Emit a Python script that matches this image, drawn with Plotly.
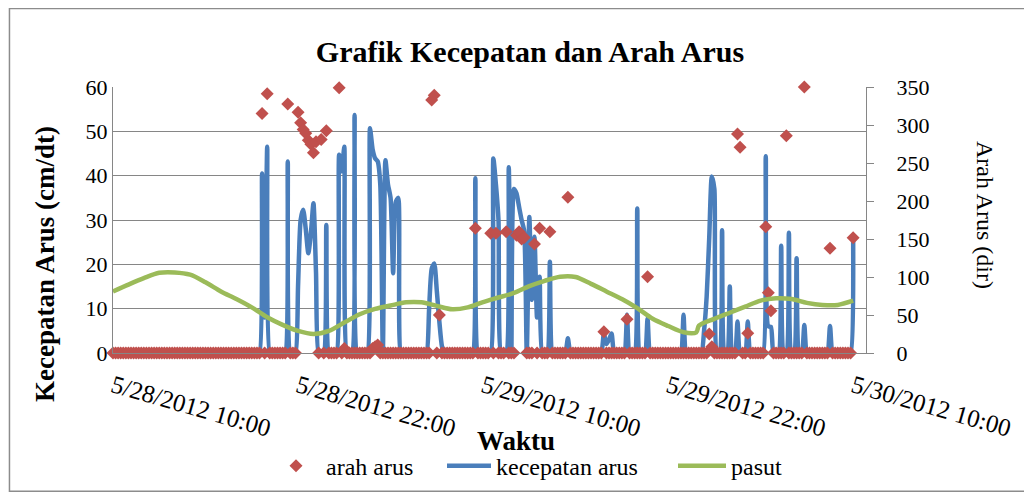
import pandas as pd
import plotly.graph_objects as go

# data 10 menit, 5/28/2012 10:00 - 5/30/2012 10:00 (tiap baris = 2 jam)
kecepatan_arus = [
    0, 0, 0, 0, 0, 0, 0, 0, 0, 0, 0, 0,
    0, 0, 0, 0, 0, 0, 0, 0, 0, 0, 0, 0,
    0, 0, 0, 0, 0, 0, 0, 0, 0, 0, 0, 0,
    0, 0, 0, 0, 0, 0, 0, 0, 0, 0, 0, 0,
    0, 0, 0, 0, 0, 0, 0, 0, 0, 0, 40.5, 8,
    46.5, 0, 0, 0, 0, 0, 0, 0, 43.2, 0, 0, 0,
    15, 30, 32.3, 28, 22.5, 27, 33.8, 18, 0, 0, 0, 28.9,
    0, 0, 0, 0, 44.7, 41, 46.5, 0, 0, 0, 53.7, 0,
    0, 0, 0, 0, 50.7, 46, 43.9, 43.2, 38, 0, 43.5, 38,
    35, 18, 34, 35, 0, 0, 0, 0, 0, 0, 0, 0,
    0, 0, 0, 10, 19, 20.2, 14, 7, 1.5, 0, 0, 0,
    0, 0, 0, 0, 0, 0, 0, 0, 0, 39.4, 0, 0,
    0, 0, 0, 0, 43.9, 38, 30, 0, 0, 0, 41.9, 0,
    37, 36, 33, 30, 27.5, 0, 30.7, 12, 26.2, 8, 17.2, 0,
    0, 0, 20.6, 0, 0, 0, 0, 0, 0, 3.3, 0, 0,
    0, 0, 0, 0, 0, 0, 0, 0, 0, 0, 0, 4.4,
    2, 3, 4.4, 0, 0, 0, 0, 0, 8.6, 0, 0, 0,
    32.6, 0, 0, 0, 7.8, 0, 0, 0, 0, 0, 0, 0,
    0, 0, 0, 0, 0, 0, 8.6, 0, 0, 0, 0, 0,
    0, 0, 5, 12.7, 26, 39.8, 37, 0, 0, 27.7, 0, 0,
    15, 0, 0, 7.1, 0, 0, 0, 7.1, 0, 0, 0, 0,
    0, 0, 44.4, 6, 5.9, 0, 0, 0, 24.2, 0, 0, 27.1,
    0, 0, 21.4, 0, 0, 6.3, 0, 0, 0, 0, 0, 0,
    0, 0, 0, 6.1, 0, 0, 0, 0, 0, 0, 0, 0,
    25.9,
]

arah_arus = [
    0, 0, 0, 0, 0, 0, 0, 0, 0, 0, 0, 0,
    0, 0, 0, 0, 0, 0, 0, 0, 0, 0, 0, 0,
    0, 0, 0, 0, 0, 0, 0, 0, 0, 0, 0, 0,
    0, 0, 0, 0, 0, 0, 0, 0, 0, 0, 0, 0,
    0, 0, 0, 0, 0, 0, 0, 0, 0, 0, 315, 0,
    341, 0, 0, 0, 0, 0, 0, 0, 327.6, 0, 0, 0,
    316.7, 303, 294, 289, 280, 274.6, 263.6, 278, 0, 281, 0, 292.5,
    0, 0, 0, 0, 349, 0, 6, 0, 0, 0, 0, 0,
    0, 0, 0, 0, 0, 6, 8.3, 10.5, 0, 0, 0, 0,
    0, 0, 0, 0, 0, 0, 0, 0, 0, 0, 0, 0,
    0, 0, 0, 0, 333, 339, 0, 50, 0, 0, 0, 0,
    0, 0, 0, 0, 0, 0, 0, 0, 0, 164, 0, 0,
    0, 0, 0, 157.5, 0, 157.5, 0, 0, 0, 159.6, 0, 0,
    0, 155, 159.6, 150, 152, 0, 0, 0, 143.4, 0, 164, 0,
    0, 0, 159.6, 0, 0, 0, 0, 0, 0, 204.9, 0, 0,
    0, 0, 0, 0, 0, 0, 0, 0, 0, 0, 0, 28,
    0, 0, 0, 0, 0, 0, 0, 0, 44.3, 0, 0, 0,
    0, 0, 0, 0, 100.4, 0, 0, 0, 0, 0, 0, 0,
    0, 0, 0, 0, 0, 0, 0, 0, 0, 0, 0, 0,
    0, 0, 0, 0, 25, 8.3, 0, 0, 0, 0, 0, 0,
    0, 0, 0, 288, 270.6, 0, 0, 26, 0, 0, 0, 0,
    0, 0, 166, 79.4, 55.7, 0, 0, 0, 0, 0, 286, 0,
    0, 0, 0, 0, 0, 350, 0, 0, 0, 0, 0, 0,
    0, 0, 0, 137.7, 0, 0, 0, 0, 0, 0, 0, 0,
    151.5,
]

# pasut (jam sejak 5/28/2012 10:00)
pasut_jam = [0, 1, 2, 3, 4, 5, 6, 7, 8, 9, 10, 11, 12, 13, 14, 15, 16, 17, 18, 19,
             20, 21, 22, 23, 24, 25, 26, 27, 28, 29, 30, 31, 32, 33, 34, 35, 36, 37,
             37.83, 38, 39, 40, 41, 42, 43, 44, 45, 46, 47, 48]
pasut = [81, 90, 98.5, 105.5, 106, 103, 93, 81, 71, 60, 47, 37, 29, 25, 29, 40, 51, 58,
         62.5, 66.7, 66.7, 62, 57.5, 60, 67, 73, 79, 88, 95, 100.4, 100, 91, 81, 71, 59,
         45, 35.5, 27.2, 27.2, 36, 45, 53, 61, 69, 72, 71, 66, 63.2, 63.2, 68.8]

start = pd.Timestamp("2012-05-28 10:00")
waktu = pd.date_range(start, periods=len(kecepatan_arus), freq="10min")
waktu_pasut = [start + pd.Timedelta(hours=h) for h in pasut_jam]

FONT = "Liberation Serif"
GRID = "#868686"

fig = go.Figure()
fig.add_trace(go.Scatter(
    x=waktu, y=arah_arus, name="arah arus", mode="markers", yaxis="y2",
    marker=dict(symbol="diamond", size=10, color="#C0504D"),
    cliponaxis=False, legend="legend",
))
fig.add_trace(go.Scatter(
    x=waktu, y=kecepatan_arus, name="kecepatan arus", mode="lines",
    line=dict(color="#4A7EBB", width=4.5, shape="spline", smoothing=0.6),
    legend="legend2",
))
fig.add_trace(go.Scatter(
    x=waktu_pasut, y=pasut, name="pasut", mode="lines", yaxis="y2",
    line=dict(color="#9BBB59", width=4.5, shape="spline", smoothing=0.8),
    legend="legend3",
))

leg = dict(orientation="h", y=-0.425, xanchor="left", yanchor="middle",
           font=dict(size=24, family=FONT), bgcolor="rgba(0,0,0,0)")

fig.update_layout(
    width=1024, height=486,
    margin=dict(l=105, r=166, t=79, b=141, autoexpand=False),
    paper_bgcolor="white", plot_bgcolor="white",
    font=dict(family=FONT, color="black", size=22),
    title=dict(text="<b>Grafik Kecepatan dan Arah Arus</b>", x=0.5098, y=0.9095,
               xanchor="center", yanchor="middle", font=dict(size=30, family=FONT)),
    xaxis=dict(
        type="date", range=[start, start + pd.Timedelta(minutes=2930)],
        tick0=start, dtick=12 * 3600 * 1000, tickformat="%-m/%-d/%Y %H:%M",
        tickangle=16, tickfont=dict(size=25), showgrid=False, ticklabelstandoff=8,
        showline=True, linecolor=GRID, ticks="", zeroline=False,
    ),
    yaxis=dict(
        range=[0, 60], dtick=10, showgrid=True, gridcolor=GRID, gridwidth=1,
        showline=True, linecolor=GRID, ticks="", zeroline=False,
        tickfont=dict(size=22),
    ),
    yaxis2=dict(
        range=[0, 350], dtick=50, overlaying="y", side="right", showgrid=False,
        showline=True, linecolor=GRID, ticks="outside", ticklen=7, tickcolor=GRID,
        zeroline=False, tickfont=dict(size=22), ticklabelstandoff=18,
    ),
    showlegend=True,
    legend=dict(leg, x=(266 - 113) / 753, itemwidth=50),
    legend2=dict(leg, x=(442 - 113) / 753, itemwidth=44),
    legend3=dict(leg, x=(673 - 113) / 753, itemwidth=48),
    annotations=[
        dict(text="<b>Kecepatan Arus (cm/dt)</b>", xref="paper", yref="paper",
             x=-0.0903, y=0.335, textangle=-90, showarrow=False,
             xanchor="center", yanchor="middle", font=dict(size=27, family=FONT)),
        dict(text="Arah Arus (dir)", xref="paper", yref="paper",
             x=1.158, y=0.519, textangle=90, showarrow=False,
             xanchor="center", yanchor="middle", font=dict(size=24, family=FONT)),
        dict(text="<b>Waktu</b>", xref="paper", yref="paper",
             x=0.535, y=-0.33, showarrow=False, xanchor="center", yanchor="middle",
             font=dict(size=27, family=FONT)),
    ],
    shapes=[
        dict(type="rect", xref="paper", yref="paper", x0=-0.1375, x1=1.2151,
             y0=-0.52, y1=1.295, line=dict(color="#8C8C8C", width=1.5)),
    ],
)

fig.write_html("out.html")
